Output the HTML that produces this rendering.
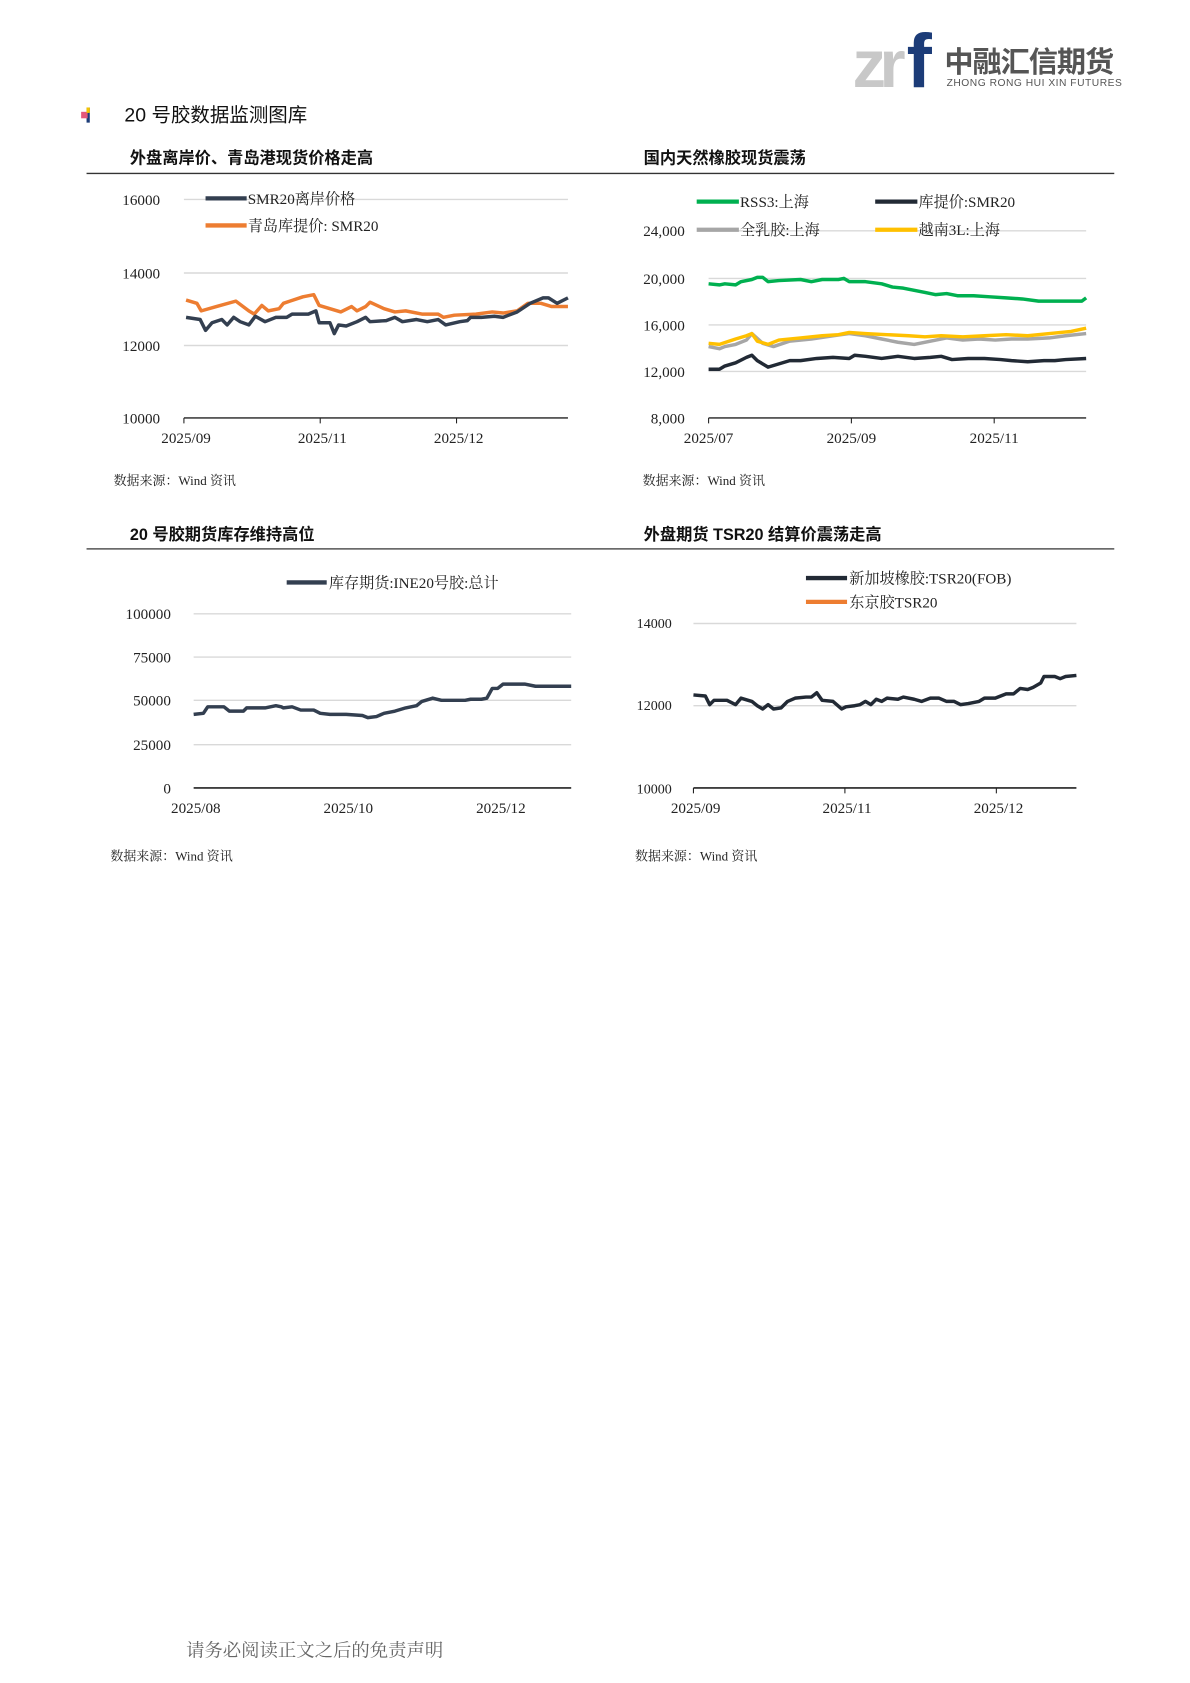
<!DOCTYPE html>
<html><head><meta charset="utf-8"><style>
html,body{margin:0;padding:0;background:#fff;width:1190px;height:1683px;overflow:hidden}
svg{display:block}
.t{font-family:"Liberation Serif","Noto Serif CJK SC",serif;font-size:14px;fill:#222}
.h{font-family:"Liberation Sans","Noto Sans CJK SC",sans-serif;font-size:15px;font-weight:bold;fill:#111}
.s{font-family:"Liberation Serif","Noto Serif CJK SC",serif;font-size:12px;fill:#222}
.g{stroke:#d9d9d9;stroke-width:1.3}
.ln{fill:none;stroke-width:3.2;stroke-linejoin:round}
</style></head><body>
<svg width="1190" height="1683" viewBox="0 0 1100 1555" xmlns="http://www.w3.org/2000/svg">
<!-- logo -->
<text x="788" y="80" font-family="Liberation Sans,sans-serif" font-size="62" font-weight="bold" fill="#c8c8c8" letter-spacing="-6">zr</text>
<text x="838" y="80" font-family="Liberation Sans,sans-serif" font-size="70" font-weight="bold" fill="#1c3c78">f</text>
<text x="873" y="66" font-family="Liberation Sans,'Noto Sans CJK SC',sans-serif" font-size="27" font-weight="bold" fill="#555" letter-spacing="-1">中融汇信期货</text>
<text x="875" y="79" font-family="Liberation Sans,sans-serif" font-size="9.5" fill="#555" textLength="162">ZHONG RONG HUI XIN FUTURES</text>
<!-- section title -->
<rect x="80" y="99" width="3" height="14" fill="#1c3c78"/><rect x="75" y="103" width="6" height="6" fill="#e4577a"/><rect x="80" y="99" width="3" height="5" fill="#f5c400"/>
<text x="115" y="112" font-family="Liberation Sans,'Noto Sans CJK SC',sans-serif" font-size="18" fill="#111">20 号胶数据监测图库</text>
<!-- titles -->
<text class="h" x="120" y="151">外盘离岸价、青岛港现货价格走高</text>
<text class="h" x="595" y="151">国内天然橡胶现货震荡</text>
<line x1="80" y1="160" x2="1030" y2="160" stroke="#333" stroke-width="1.3"/>
<text class="h" x="120" y="499">20 号胶期货库存维持高位</text>
<text class="h" x="595" y="499">外盘期货 TSR20 结算价震荡走高</text>
<line x1="80" y1="507" x2="1030" y2="507" stroke="#555" stroke-width="1.3"/>

<!-- chart1 -->
<g class="t" text-anchor="end"><text x="148" y="189">16000</text><text x="148" y="257">14000</text><text x="148" y="324">12000</text><text x="148" y="391">10000</text></g>
<line class="g" x1="170" y1="184" x2="525" y2="184"/><line class="g" x1="170" y1="252" x2="525" y2="252"/><line class="g" x1="170" y1="319" x2="525" y2="319"/>
<line x1="170" y1="386" x2="525" y2="386" stroke="#222" stroke-width="1.3"/>
<g stroke="#222"><line x1="170" y1="386" x2="170" y2="391"/><line x1="296" y1="386" x2="296" y2="391"/><line x1="422" y1="386" x2="422" y2="391"/></g>
<g class="t" text-anchor="middle"><text x="172" y="409">2025/09</text><text x="298" y="409">2025/11</text><text x="424" y="409">2025/12</text></g>
<line x1="190" y1="183" x2="228" y2="183" stroke="#333f50" stroke-width="4"/><text class="t" x="229" y="188">SMR20离岸价格</text>
<line x1="190" y1="208" x2="228" y2="208" stroke="#ed7d31" stroke-width="4"/><text class="t" x="229" y="213">青岛库提价: SMR20</text>
<polyline class="ln" stroke="#ed7d31" points="172,277 182,280 186,287 200,283 218,278 230,287 235,290 242,282 248,287 258,285 262,280 268,278 280,274 290,272 295,282 305,285 315,288 325,283 330,287 338,283 342,279 355,285 365,288 375,287 390,290 405,290 410,293 420,291 440,290 455,288 465,289 478,287 488,280 500,280 510,283 525,283"/>
<polyline class="ln" stroke="#333f50" points="172,293 185,295 190,305 196,298 205,295 210,300 216,293 222,297 230,300 236,292 245,297 255,293 265,293 270,290 285,290 292,287 295,298 305,298 309,308 313,300 320,301 330,297 338,293 342,297 357,296 365,293 372,297 385,295 395,297 405,295 412,300 425,297 432,296 435,293 445,293 457,292 465,293 478,288 490,280 502,275 507,275 515,280 525,275"/>
<text class="s" x="105" y="448">数据来源：Wind 资讯</text>

<!-- chart2 -->
<g class="t" text-anchor="end"><text x="633" y="218">24,000</text><text x="633" y="262">20,000</text><text x="633" y="305">16,000</text><text x="633" y="348">12,000</text><text x="633" y="391">8,000</text></g>
<line class="g" x1="655" y1="213" x2="1004" y2="213"/><line class="g" x1="655" y1="257" x2="1004" y2="257"/><line class="g" x1="655" y1="300" x2="1004" y2="300"/><line class="g" x1="655" y1="343" x2="1004" y2="343"/>
<line x1="655" y1="386" x2="1004" y2="386" stroke="#222" stroke-width="1.3"/>
<g stroke="#222"><line x1="655" y1="386" x2="655" y2="391"/><line x1="787" y1="386" x2="787" y2="391"/><line x1="919" y1="386" x2="919" y2="391"/></g>
<g class="t" text-anchor="middle"><text x="655" y="409">2025/07</text><text x="787" y="409">2025/09</text><text x="919" y="409">2025/11</text></g>
<line x1="644" y1="186" x2="683" y2="186" stroke="#00b050" stroke-width="4"/><text class="t" x="684" y="191">RSS3:上海</text>
<line x1="809" y1="186" x2="848" y2="186" stroke="#222a35" stroke-width="4"/><text class="t" x="849" y="191">库提价:SMR20</text>
<line x1="644" y1="212" x2="683" y2="212" stroke="#a6a6a6" stroke-width="4"/><text class="t" x="684" y="217">全乳胶:上海</text>
<line x1="809" y1="212" x2="848" y2="212" stroke="#ffc000" stroke-width="4"/><text class="t" x="849" y="217">越南3L:上海</text>
<polyline class="ln" stroke="#00b050" points="655,262 665,263 670,262 680,263 685,260 695,258 700,256 705,256 710,260 720,259 740,258 750,260 760,258 775,258 780,257 785,260 800,260 815,262 825,265 835,266 845,268 855,270 865,272 875,271 885,273 900,273 915,274 930,275 945,276 960,278 975,278 990,278 1000,278 1004,275"/>
<polyline class="ln" stroke="#a6a6a6" points="655,320 665,322 670,320 680,318 690,314 695,308 705,317 715,320 730,315 750,313 770,310 785,308 800,310 815,313 830,316 845,318 860,315 875,312 890,314 905,313 920,314 935,313 950,313 970,312 985,310 1004,308"/>
<polyline class="ln" stroke="#ffc000" points="655,317 665,318 680,313 690,310 695,308 700,315 710,318 720,314 740,312 760,310 775,309 785,307 800,308 820,309 840,310 855,311 870,310 890,311 910,310 930,309 950,310 970,308 990,306 1004,303"/>
<polyline class="ln" stroke="#222a35" points="655,341 665,341 670,338 680,335 690,330 695,328 700,333 710,339 720,336 730,333 740,333 755,331 770,330 785,331 790,328 800,329 815,331 830,329 845,331 860,330 870,329 880,332 895,331 910,331 925,332 935,333 950,334 965,333 975,333 985,332 1004,331"/>
<text class="s" x="594" y="448">数据来源：Wind 资讯</text>

<!-- chart3 -->
<g class="t" text-anchor="end"><text x="158" y="572">100000</text><text x="158" y="612">75000</text><text x="158" y="652">50000</text><text x="158" y="693">25000</text><text x="158" y="733">0</text></g>
<line class="g" x1="179" y1="567" x2="528" y2="567"/><line class="g" x1="179" y1="607" x2="528" y2="607"/><line class="g" x1="179" y1="647" x2="528" y2="647"/><line class="g" x1="179" y1="688" x2="528" y2="688"/>
<line x1="179" y1="728" x2="528" y2="728" stroke="#222" stroke-width="1.5"/>
<g class="t" text-anchor="middle"><text x="181" y="751">2025/08</text><text x="322" y="751">2025/10</text><text x="463" y="751">2025/12</text></g>
<line x1="265" y1="538" x2="302" y2="538" stroke="#333f50" stroke-width="4"/><text class="t" x="304" y="543">库存期货:INE20号胶:总计</text>
<polyline class="ln" stroke="#333f50" points="179,660 188,659 192,653 207,653 212,657 225,657 228,654 245,654 255,652 260,653 262,654 270,653 278,656 290,656 296,659 305,660 320,660 335,661 340,663 348,662 355,659 365,657 375,654 385,652 390,648 400,645 408,647 430,647 435,646 445,646 450,645 455,636 460,636 465,632 485,632 495,634 510,634 528,634"/>
<text class="s" x="102" y="795">数据来源：Wind 资讯</text>

<!-- chart4 -->
<g class="s" text-anchor="end" style="font-size:13px"><text x="621" y="580">14000</text><text x="621" y="656">12000</text><text x="621" y="733">10000</text></g>
<line class="g" x1="641" y1="576" x2="995" y2="576"/><line class="g" x1="641" y1="652" x2="995" y2="652"/>
<line x1="641" y1="728" x2="995" y2="728" stroke="#222" stroke-width="1.5"/>
<g stroke="#222"><line x1="641" y1="728" x2="641" y2="733"/><line x1="781" y1="728" x2="781" y2="733"/><line x1="921" y1="728" x2="921" y2="733"/></g>
<g class="t" text-anchor="middle"><text x="643" y="751">2025/09</text><text x="783" y="751">2025/11</text><text x="923" y="751">2025/12</text></g>
<line x1="745" y1="534" x2="783" y2="534" stroke="#222a35" stroke-width="4"/><text class="t" x="785" y="539">新加坡橡胶:TSR20(FOB)</text>
<line x1="745" y1="556" x2="783" y2="556" stroke="#ed7d31" stroke-width="4"/><text class="t" x="785" y="561">东京胶TSR20</text>
<polyline class="ln" stroke="#222a35" points="641,642 652,643 656,651 660,647 672,647 680,651 685,645 695,648 700,652 705,655 710,651 715,655 722,654 728,648 735,645 745,644 750,644 755,640 760,647 770,648 778,655 782,653 790,652 795,651 800,648 805,651 810,646 815,648 820,645 830,646 835,644 845,646 852,648 860,645 868,645 875,648 882,648 888,651 895,650 905,648 910,645 920,645 925,643 930,641 937,641 943,636 950,637 955,635 962,631 965,625 975,625 980,627 985,625 995,624"/>
<text class="s" x="587" y="795">数据来源：Wind 资讯</text>

<!-- footer -->
<text x="172" y="1531" font-family="Liberation Serif,'Noto Serif CJK SC',serif" font-size="17" fill="#666">请务必阅读正文之后的免责声明</text>
</svg>
</body></html>
